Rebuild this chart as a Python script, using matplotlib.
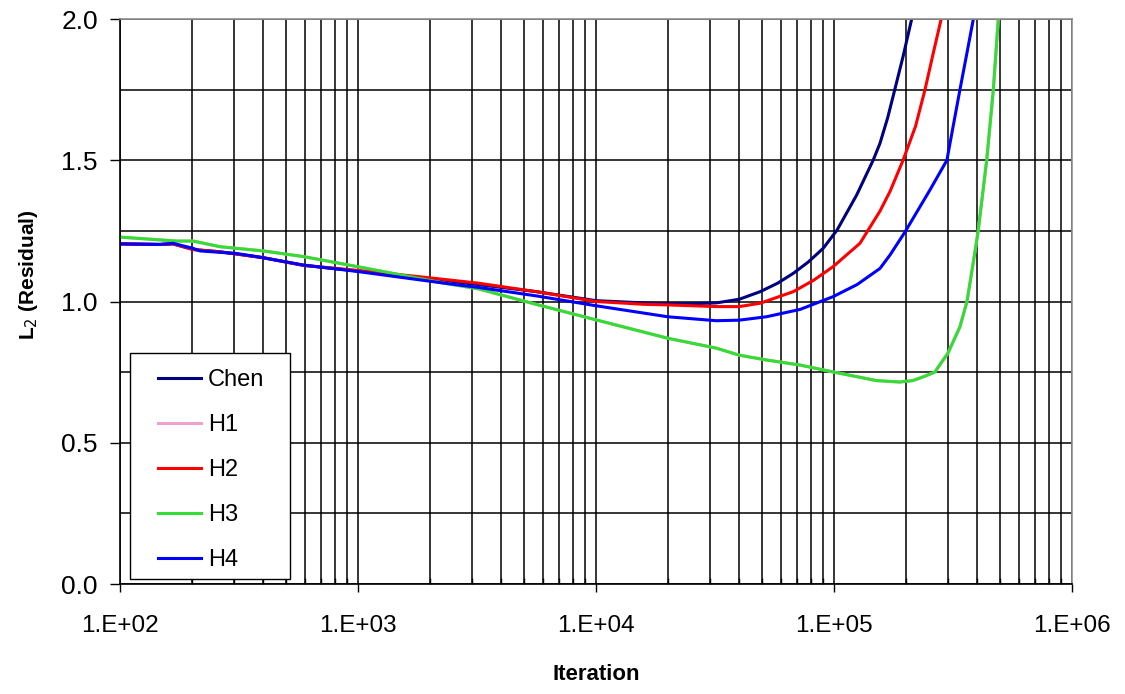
import matplotlib.pyplot as plt
from matplotlib.patches import Rectangle
from matplotlib.ticker import LogLocator, MultipleLocator, FixedFormatter, FixedLocator

chen_x = [100, 147, 167, 203, 263, 309, 400, 590, 1000, 1800, 3200, 5600, 1.0e4, 1.8e4,
          2.5e4, 3.2e4, 4.0e4, 4.9e4, 5.8e4, 6.75e4, 7.8e4, 9.0e4, 1.03e5, 1.245e5,
          1.46e5, 1.56e5, 1.68e5, 1.80e5, 1.95e5, 2.12e5, 2.2e5]
chen_y = [1.204, 1.202, 1.204, 1.184, 1.176, 1.168, 1.155, 1.128, 1.108, 1.085, 1.06,
          1.035, 1.003, 0.993, 0.992, 0.995, 1.008, 1.035, 1.065, 1.10, 1.14, 1.188,
          1.253, 1.377, 1.50, 1.56, 1.65, 1.75, 1.867, 2.0, 2.05]

h1_x = [100, 173, 203, 263, 400, 590, 1000, 2300, 3200, 5600, 1.0e4, 2.0e4, 3.2e4, 4.0e4,
        5.2e4, 7.2e4, 1.0e5, 1.51e5, 1.89e5, 2.14e5, 2.40e5, 2.65e5, 3.01e5, 3.38e5,
        3.62e5, 3.8e5, 4.03e5, 4.38e5, 4.67e5, 4.90e5, 5.0e5]
h1_y = [1.228, 1.214, 1.214, 1.194, 1.179, 1.159, 1.123, 1.065, 1.045, 0.99, 0.935, 0.87,
        0.835, 0.81, 0.793, 0.775, 0.75, 0.72, 0.715, 0.72, 0.735, 0.75, 0.817, 0.91,
        1.0, 1.11, 1.247, 1.50, 1.749, 2.0, 2.05]

h2_x = [100, 147, 167, 203, 263, 309, 400, 590, 1000, 1800, 3200, 5600, 1.0e4, 1.6e4,
        2.0e4, 3.2e4, 4.0e4, 4.9e4, 6.75e4, 8.2e4, 9.9e4, 1.285e5, 1.56e5, 1.72e5,
        1.95e5, 2.2e5, 2.41e5, 2.61e5, 2.82e5, 2.9e5]
h2_y = [1.204, 1.202, 1.204, 1.184, 1.176, 1.168, 1.155, 1.128, 1.11, 1.088, 1.065,
        1.035, 1.0, 0.99, 0.988, 0.982, 0.982, 0.994, 1.035, 1.075, 1.123, 1.206, 1.32,
        1.39, 1.50, 1.62, 1.749, 1.878, 2.0, 2.05]

h3_x = [100, 173, 203, 263, 400, 590, 1000, 2300, 3200, 5600, 1.0e4, 2.0e4, 3.2e4, 4.0e4,
        5.2e4, 7.2e4, 1.0e5, 1.51e5, 1.89e5, 2.14e5, 2.40e5, 2.65e5, 3.01e5, 3.38e5,
        3.62e5, 3.8e5, 4.03e5, 4.38e5, 4.67e5, 4.90e5, 5.0e5]
h3_y = [1.228, 1.214, 1.214, 1.194, 1.179, 1.159, 1.123, 1.065, 1.045, 0.99, 0.935, 0.87,
        0.835, 0.81, 0.793, 0.775, 0.75, 0.72, 0.715, 0.72, 0.735, 0.75, 0.817, 0.91,
        1.0, 1.11, 1.247, 1.50, 1.749, 2.0, 2.05]

h4_x = [100, 147, 167, 203, 217, 309, 375, 590, 1000, 2300, 3200, 5600, 1.0e4, 2.0e4,
        3.2e4, 4.0e4, 5.2e4, 7.2e4, 9.9e4, 1.25e5, 1.56e5, 1.72e5, 1.99e5, 2.53e5,
        2.98e5, 3.15e5, 3.38e5, 3.6e5, 3.85e5, 3.95e5]
h4_y = [1.204, 1.202, 1.206, 1.188, 1.179, 1.17, 1.159, 1.129, 1.106, 1.065, 1.05, 1.02,
        0.985, 0.946, 0.932, 0.934, 0.946, 0.972, 1.017, 1.06, 1.117, 1.165, 1.247,
        1.395, 1.50, 1.61, 1.749, 1.87, 2.0, 2.05]

x_ticks = [1e2, 1e3, 1e4, 1e5, 1e6]
x_labels = ['1.E+02', '1.E+03', '1.E+04', '1.E+05', '1.E+06']

plt.rcParams['font.family'] = ['Liberation Sans', 'DejaVu Sans']

fig = plt.figure(figsize=(11.25, 6.94), dpi=100)
ax = fig.add_axes([0.1067, 0.1585, 0.8462, 0.8141])

lw = 2.2
ax.plot(chen_x, chen_y, color='#000080', lw=lw, label='Chen')
ax.plot(h1_x, h1_y, color='#f0a0cc', lw=lw, label='H1')
ax.plot(h2_x, h2_y, color='#ff0000', lw=lw, label='H2')
ax.plot(h3_x, h3_y, color='#33dd33', lw=lw, label='H3')
ax.plot(h4_x, h4_y, color='#0000ff', lw=lw, label='H4')

ax.set_xscale('log')
ax.set_xlim(1e2, 1e6)
ax.set_ylim(0, 2.0)
ax.xaxis.set_major_locator(FixedLocator(x_ticks))
ax.xaxis.set_major_formatter(FixedFormatter(x_labels))
ax.xaxis.set_minor_locator(LogLocator(base=10, subs=range(2, 10)))
ax.yaxis.set_major_locator(MultipleLocator(0.5))
ax.yaxis.set_minor_locator(MultipleLocator(0.25))
ax.yaxis.set_major_formatter(plt.FormatStrFormatter('%.1f'))

ax.grid(True, which='both', color='black', lw=1.1)
ax.set_axisbelow(True)

ax.tick_params(axis='y', which='major', direction='out', length=7, width=1, labelsize=19, pad=9)
ax.tick_params(axis='y', which='minor', length=0)
ax.tick_params(axis='x', which='major', direction='out', length=6, width=1, labelsize=17.5, pad=16)
ax.tick_params(axis='x', which='minor', direction='in', length=4, width=1)

for s in ['left', 'bottom']:
    ax.spines[s].set_color('black')
    ax.spines[s].set_linewidth(1.2)
for s in ['top', 'right']:
    ax.spines[s].set_color('#909090')
    ax.spines[s].set_linewidth(1.2)

ax.set_xlabel('Iteration', fontsize=16, fontweight='bold', labelpad=20)
ax.set_ylabel(r'L$_2$ (Residual)', fontsize=15, fontweight='bold')
ax.yaxis.set_label_coords(-0.084, 0.547)

# legend box drawn separately so the side padding can be wider than the top padding
ax.add_patch(Rectangle((0.0105, 0.009), 0.168, 0.40, transform=ax.transAxes,
                       facecolor='white', edgecolor='black', lw=1.0, zorder=4.5))
leg = ax.legend(loc='upper left', bbox_to_anchor=(0.0399, 0.38), fontsize=17,
                frameon=False, handlelength=1.82, handletextpad=0.3,
                labelspacing=0.97, borderpad=0, borderaxespad=0)
leg.set_zorder(5)

fig.savefig('out.png', dpi=100)
